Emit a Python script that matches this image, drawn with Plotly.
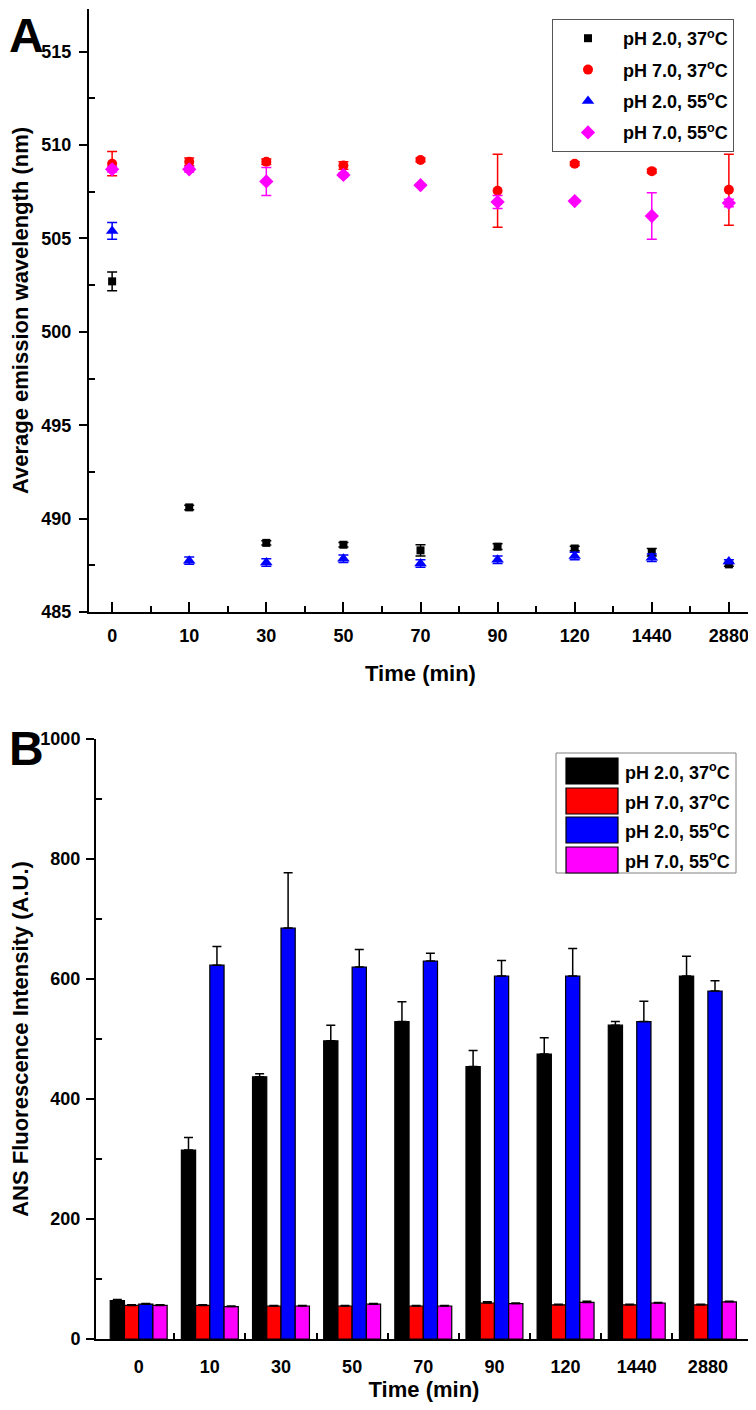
import plotly.graph_objects as go

# ---------------- data ----------------
times = ["0", "10", "30", "50", "70", "90", "120", "1440", "2880"]
series_names = ["pH 2.0, 37<sup>o</sup>C", "pH 7.0, 37<sup>o</sup>C",
                "pH 2.0, 55<sup>o</sup>C", "pH 7.0, 55<sup>o</sup>C"]
colors = ["#000000", "#FF0000", "#0000FF", "#FF00FF"]

# Panel A: average emission wavelength (nm)
wl_ph2_37 = [502.7, 490.6, 488.7, 488.6, 488.3, 488.5, 488.4, 488.2, 487.55]
wl_ph2_37_err = [0.5, 0.12, 0.12, 0.12, 0.3, 0.15, 0.12, 0.2, 0.1]
wl_ph7_37 = [509.0, 509.1, 509.1, 508.9, 509.2, 507.55, 509.0, 508.6, 507.6]
wl_ph7_37_err = [0.65, 0.2, 0.15, 0.2, 0.1, 1.95, 0.1, 0.1, 1.9]
wl_ph2_55 = [505.4, 487.75, 487.65, 487.85, 487.6, 487.8, 488.0, 487.9, 487.7]
wl_ph2_55_err = [0.45, 0.2, 0.2, 0.2, 0.2, 0.2, 0.2, 0.2, 0.1]
wl_ph7_55 = [508.7, 508.7, 508.05, 508.4, 507.85, 506.95, 507.0, 506.2, 506.9]
wl_ph7_55_err = [0.15, 0.15, 0.75, 0.1, 0.05, 0.35, 0.05, 1.25, 0.2]

# Panel B: ANS fluorescence intensity (A.U.)
ans_ph2_37 = [64, 315, 437, 497, 529, 454, 475, 523, 605]
ans_ph2_37_err = [2, 21, 5, 26, 33, 27, 27, 6, 33]
ans_ph7_37 = [56, 56, 55, 55, 55, 60, 57, 57, 57]
ans_ph7_37_err = [1, 1, 1, 1, 1, 2, 1, 1, 1]
ans_ph2_55 = [58, 623, 685, 620, 630, 605, 605, 529, 580]
ans_ph2_55_err = [1, 31, 92, 29, 13, 26, 46, 34, 17]
ans_ph7_55 = [56, 54, 55, 58, 55, 59, 61, 60, 62]
ans_ph7_55_err = [1, 1, 1, 1, 1, 1, 2, 1, 1]

# ---------------- layout helpers ----------------
# the page body adds an 8 px margin, so the figure is drawn 8 px smaller
OFF = 8
W, H = 756 - OFF, 1410 - OFF
ML, MR, MT, MB = 89 - OFF, 4, 1, 71
PW, PH = W - ML - MR, H - MT - MB


def fx(px):  # page pixel -> paper x
    return (px - OFF - ML) / PW


def fy(py):  # page pixel -> paper y
    return (H - MB - (py - OFF)) / PH


FONT = "Liberation Sans, Arial, sans-serif"
idx = list(range(len(times)))

fig = go.Figure()

# ---------------- Panel A ----------------
wl_vals = [wl_ph2_37, wl_ph7_37, wl_ph2_55, wl_ph7_55]
wl_errs = [wl_ph2_37_err, wl_ph7_37_err, wl_ph2_55_err, wl_ph7_55_err]
symbols = ["square", "circle", "triangle-up", "diamond"]
sizes = [8, 10, 11, 11]
for k, (name, vals, errs, col, sym, sz) in enumerate(
        zip(series_names, wl_vals, wl_errs, colors, symbols, sizes)):
    fig.add_trace(go.Scatter(
        x=idx, y=vals, mode="markers", name=name, legendgroup=f"g{k}",
        marker=dict(symbol=sym, size=sz, color=col, line=dict(width=0)),
        error_y=dict(type="data", array=errs, color=col, thickness=1.5, width=5),
        xaxis="x", yaxis="y", showlegend=True,
    ))

# ---------------- Panel B ----------------
ans_vals = [ans_ph2_37, ans_ph7_37, ans_ph2_55, ans_ph7_55]
ans_errs = [ans_ph2_37_err, ans_ph7_37_err, ans_ph2_55_err, ans_ph7_55_err]
for name, vals, errs, col in zip(series_names, ans_vals, ans_errs, colors):
    fig.add_trace(go.Bar(
        x=idx, y=vals, name=name,
        marker=dict(color=col, line=dict(color="black", width=1.2)),
        error_y=dict(type="data", array=errs, arrayminus=[0] * len(errs), symmetric=False,
                     color="black", thickness=1.5, width=4.5),
        xaxis="x2", yaxis="y2", showlegend=False,
    ))

tickfont = dict(family=FONT, size=18, color="black", weight="bold")
titlefont = dict(family=FONT, size=22, color="black", weight="bold")
axline = dict(showline=True, linecolor="black", linewidth=2, showgrid=False,
              zeroline=False, automargin=False)

yA_dom = [fy(612), fy(OFF + MT)]
yB_dom = [fy(1339), fy(739)]
xA_dom = [fx(89), fx(752)]
xB_dom = [fx(96), fx(752)]
rangeA_x = [-0.3, 8.3]
rangeB_x = [-0.6, 8.62]
rangeA_y = [485, 517.28]
rangeB_y = [0, 1000]

fig.update_layout(
    template="none",
    width=W, height=H,
    margin=dict(l=ML, r=MR, t=MT, b=MB, pad=0),
    paper_bgcolor="white", plot_bgcolor="white",
    barmode="group", bargap=0.2, bargroupgap=0,
    font=dict(family=FONT, color="black"),
    # Panel A axes
    xaxis=dict(domain=xA_dom, anchor="y", range=rangeA_x, tickmode="array",
               tickvals=idx, ticktext=times, ticks="inside", ticklen=10, tickwidth=2,
               tickcolor="black", tickfont=tickfont, ticklabelstandoff=6,
               minor=dict(tickmode="array", tickvals=[i + 0.5 for i in idx[:-1]],
                          ticks="inside", ticklen=6, tickwidth=2, tickcolor="black"),
               title=dict(text="Time (min)", font=titlefont, standoff=21), **axline),
    xaxis3=dict(overlaying="x", anchor="y", side="top", range=rangeA_x, tickmode="array",
                tickvals=idx, ticks="inside", ticklen=10, tickwidth=2, tickcolor="black",
                showticklabels=False, **axline),
    yaxis=dict(domain=yA_dom, anchor="x", range=rangeA_y, tickmode="linear", tick0=485, dtick=5,
               ticks="outside", ticklen=8, tickwidth=2, tickcolor="black", tickfont=tickfont,
               ticklabelstandoff=4,
               minor=dict(tickmode="linear", tick0=487.5, dtick=5, ticks="inside", ticklen=6,
                          tickwidth=2, tickcolor="black"),
               title=dict(text="Average emission wavelength (nm)", font=titlefont, standoff=11),
               **axline),
    yaxis3=dict(overlaying="y", anchor="x", side="right", range=rangeA_y, tickmode="linear",
                tick0=485, dtick=2.5, ticks="inside", ticklen=9, tickwidth=2, tickcolor="black",
                showticklabels=False, **axline),
    # Panel B axes
    xaxis2=dict(domain=xB_dom, anchor="y2", range=rangeB_x, tickmode="array",
                tickvals=idx, ticktext=times, ticks="", tickfont=tickfont, ticklabelstandoff=10,
                minor=dict(tickmode="array", tickvals=[i + 0.5 for i in idx[:-1]],
                           ticks="inside", ticklen=6, tickwidth=2, tickcolor="black"),
                title=dict(text="Time (min)", font=titlefont, standoff=4), **axline),
    xaxis4=dict(overlaying="x2", anchor="y2", side="top", range=rangeB_x, tickmode="array",
                tickvals=idx, ticks="inside", ticklen=10, tickwidth=2, tickcolor="black",
                showticklabels=False, **axline),
    yaxis2=dict(domain=yB_dom, anchor="x2", range=rangeB_y, tickmode="linear", tick0=0, dtick=200,
                ticks="outside", ticklen=8, tickwidth=2, tickcolor="black", tickfont=tickfont,
                ticklabelstandoff=2,
                minor=dict(tickmode="linear", tick0=100, dtick=200, ticks="inside", ticklen=6,
                           tickwidth=2, tickcolor="black"),
                title=dict(text="ANS Fluorescence Intensity (A.U.)", font=titlefont, standoff=9),
                **axline),
    yaxis4=dict(overlaying="y2", anchor="x2", side="right", range=rangeB_y, tickmode="linear",
                tick0=0, dtick=100, ticks="inside", ticklen=9, tickwidth=2, tickcolor="black",
                showticklabels=False, **axline),
    legend=dict(x=fx(552), y=fy(19), xanchor="left", yanchor="top",
                bgcolor="white", bordercolor="#555555", borderwidth=1,
                font=dict(family=FONT, size=18, color="black", weight="bold"),
                itemwidth=60, traceorder="grouped", tracegroupgap=5),
)

# Panel letters
fig.add_annotation(text="A", xref="paper", yref="paper", x=fx(8), y=fy(8.5),
                   xanchor="left", yanchor="top", showarrow=False, borderpad=0,
                   font=dict(family=FONT, size=48, color="black", weight="bold"))
fig.add_annotation(text="B", xref="paper", yref="paper", x=fx(8), y=fy(721),
                   xanchor="left", yanchor="top", showarrow=False, borderpad=0,
                   font=dict(family=FONT, size=48, color="black", weight="bold"))

# Panel B legend (large swatches)
fig.add_shape(type="rect", xref="paper", yref="paper",
              x0=fx(556), x1=fx(736), y0=fy(873), y1=fy(753),
              line=dict(color="#808080", width=1), fillcolor="white", layer="above")
row_tops = [758, 788, 817, 847]
for name, col, top in zip(series_names, colors, row_tops):
    fig.add_shape(type="rect", xref="paper", yref="paper",
                  x0=fx(566), x1=fx(618), y0=fy(top + 26), y1=fy(top),
                  line=dict(color="black", width=1.2), fillcolor=col, layer="above")
    fig.add_annotation(text=name, xref="paper", yref="paper", x=fx(623), y=fy(top + 13),
                       xanchor="left", yanchor="middle", showarrow=False,
                       font=dict(family=FONT, size=18, color="black", weight="bold"))

fig.write_html("out.html")
